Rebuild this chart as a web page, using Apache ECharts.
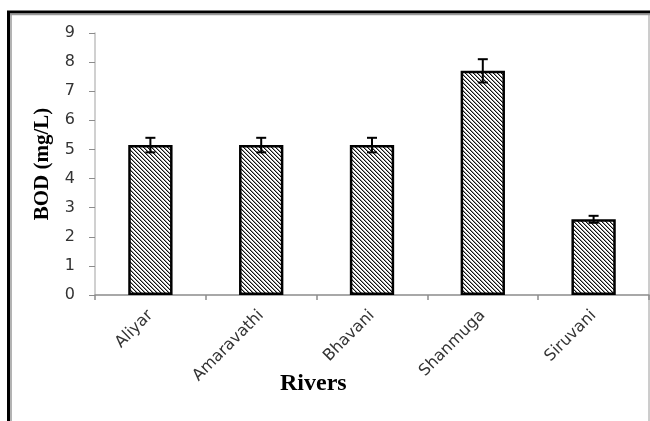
<!DOCTYPE html>
<html>
<head>
<meta charset="utf-8">
<script src="https://cdn.jsdelivr.net/npm/echarts@6/dist/echarts.min.js"></script>
<style>
html,body{margin:0;padding:0;background:#fff;}
#chart{width:650px;height:421px;}
</style>
</head>
<body>
<div id="chart"></div>
<script>
var categories = ['Aliyar', 'Amaravathi', 'Bhavani', 'Shanmuga', 'Siruvani'];
var bodValues = [5.15, 5.15, 5.15, 7.7, 2.6];
var bodErrors = [0.25, 0.25, 0.25, 0.4, 0.12];
var yTicks = [0, 1, 2, 3, 4, 5, 6, 7, 8, 9];

function makeHatch() {
  var c = document.createElement('canvas');
  c.width = 4; c.height = 4;
  var ctx = c.getContext('2d');
  ctx.fillStyle = '#ffffff';
  ctx.fillRect(0, 0, 4, 4);
  for (var y = 0; y < 4; y++) {
    for (var x = 0; x < 4; x++) {
      var d = ((x - y) % 4 + 4) % 4;
      if (d === 0) { ctx.fillStyle = '#111111'; ctx.fillRect(x, y, 1, 1); }
      else if (d === 1) { ctx.fillStyle = '#999999'; ctx.fillRect(x, y, 1, 1); }
    }
  }
  return c;
}

var errData = categories.map(function (c, i) {
  return [i, bodValues[i] - bodErrors[i], bodValues[i] + bodErrors[i]];
});

var chart = echarts.init(document.getElementById('chart'), null, {renderer: 'canvas'});
chart.setOption({
  animation: false,
  backgroundColor: '#ffffff',
  grid: {left: 95, right: 1, top: 33, bottom: 126, containLabel: false},
  xAxis: {
    type: 'category',
    data: categories,
    boundaryGap: true,
    axisLine: {lineStyle: {color: '#8c8c8c', width: 1.5}},
    axisTick: {show: true, alignWithLabel: false, length: 5, lineStyle: {color: '#8c8c8c', width: 1.5}},
    axisLabel: {rotate: 45, margin: 18, fontFamily: 'DejaVu Sans', fontSize: 16, color: '#333333'}
  },
  yAxis: {
    type: 'value',
    min: yTicks[0],
    max: yTicks[yTicks.length - 1],
    interval: 1,
    name: 'BOD (mg/L)',
    nameLocation: 'middle',
    nameGap: 42,
    nameTextStyle: {fontFamily: 'Liberation Serif', fontWeight: 'bold', fontSize: 21, color: '#000000'},
    axisLine: {show: true, lineStyle: {color: '#c0c0c0', width: 1.5}},
    axisTick: {show: true, length: 6, lineStyle: {color: '#8c8c8c', width: 1}},
    splitLine: {show: false},
    axisLabel: {margin: 20, fontFamily: 'DejaVu Sans', fontSize: 16, color: '#333333'}
  },
  series: [
    {
      type: 'bar',
      data: bodValues,
      barWidth: '40%',
      itemStyle: {
        color: {image: makeHatch(), repetition: 'repeat'},
        borderColor: '#000000',
        borderWidth: 2.5
      }
    },
    {
      type: 'custom',
      data: errData,
      encode: {x: 0, y: [1, 2]},
      z: 10,
      renderItem: function (params, api) {
        var idx = api.value(0);
        var lo = api.coord([idx, api.value(1)]);
        var hi = api.coord([idx, api.value(2)]);
        var half = 5;
        var style = {stroke: '#000000', lineWidth: 2};
        return {
          type: 'group',
          children: [
            {type: 'line', shape: {x1: hi[0], y1: hi[1], x2: lo[0], y2: lo[1]}, style: style},
            {type: 'line', shape: {x1: hi[0] - half, y1: hi[1], x2: hi[0] + half, y2: hi[1]}, style: style},
            {type: 'line', shape: {x1: lo[0] - half, y1: lo[1], x2: lo[0] + half, y2: lo[1]}, style: style}
          ]
        };
      }
    }
  ],
  graphic: [
    {type: 'line', shape: {x1: 7, y1: 12, x2: 650, y2: 12}, style: {stroke: '#000000', lineWidth: 3}},
    {type: 'line', shape: {x1: 10, y1: 14.5, x2: 650, y2: 14.5}, style: {stroke: '#9a9a9a', lineWidth: 1.5}},
    {type: 'line', shape: {x1: 8.5, y1: 11, x2: 8.5, y2: 421}, style: {stroke: '#000000', lineWidth: 3}},
    {type: 'line', shape: {x1: 11, y1: 14, x2: 11, y2: 421}, style: {stroke: '#9a9a9a', lineWidth: 1.5}},
    {type: 'line', shape: {x1: 649, y1: 14, x2: 649, y2: 421}, style: {stroke: '#9a9a9a', lineWidth: 1}},
    {type: 'text', left: 280, top: 372, style: {text: 'Rivers', fontFamily: 'Liberation Serif', fontWeight: 'bold', fontSize: 24, fill: '#000000'}}
  ]
});
</script>
</body>
</html>
